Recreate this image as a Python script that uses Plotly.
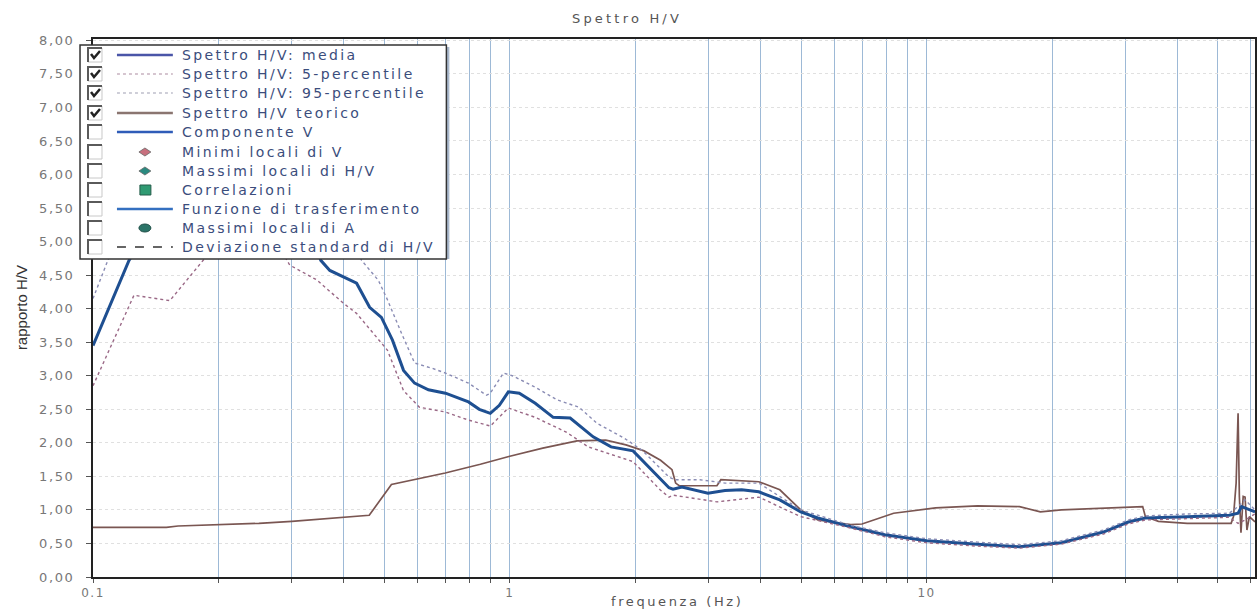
import plotly.graph_objects as go

# ---- data -------------------------------------------------------------
# Spettro H/V: media
media_f = [0.100, 0.122, 0.150, 0.180, 0.220, 0.260, 0.300, 0.330, 0.352, 0.370,
           0.429, 0.461, 0.492, 0.523, 0.556, 0.591, 0.638, 0.701, 0.796, 0.845,
           0.898, 0.944, 0.992, 1.054, 1.151, 1.271, 1.396, 1.585, 1.750, 1.976,
           2.232, 2.410, 2.464, 2.589, 2.988, 3.283, 3.600, 3.958, 4.445, 4.990,
           5.483, 6.577, 7.933, 10.00, 13.25, 16.71, 21.06, 26.55, 30.47, 33.46,
           42.19, 53.20, 55.90, 57.00, 61.40]
media_v = [3.45, 4.72, 5.60, 6.30, 6.70, 6.50, 5.90, 5.20, 4.72, 4.57,
           4.38, 4.02, 3.87, 3.53, 3.08, 2.89, 2.79, 2.74, 2.61, 2.50,
           2.44, 2.56, 2.76, 2.74, 2.59, 2.38, 2.37, 2.09, 1.94, 1.88,
           1.55, 1.33, 1.31, 1.34, 1.25, 1.29, 1.30, 1.27, 1.15, 0.97,
           0.88, 0.75, 0.63, 0.54, 0.49, 0.45, 0.51, 0.67, 0.82, 0.88,
           0.90, 0.92, 0.95, 1.05, 0.97]

# Spettro H/V: 5-percentile
p5_f = [0.100, 0.1254, 0.1529, 0.1854, 0.210, 0.240, 0.270, 0.2964, 0.344, 0.399,
        0.4289, 0.4842, 0.5088, 0.5558, 0.6072, 0.7006, 0.7955, 0.8982, 0.9917, 1.151,
        1.366, 1.542, 1.976, 2.294, 2.410, 2.464, 3.141, 3.958, 4.990, 6.577,
        7.933, 10.00, 13.25, 16.71, 21.06, 26.55, 30.47, 33.46, 42.19, 53.20,
        55.90, 58.10, 61.40]
p5_v = [2.85, 4.20, 4.12, 4.75, 5.50, 5.60, 5.10, 4.65, 4.43, 4.08,
        3.93, 3.53, 3.38, 2.78, 2.53, 2.46, 2.34, 2.25, 2.52, 2.38,
        2.16, 1.94, 1.72, 1.30, 1.19, 1.22, 1.12, 1.19, 0.90, 0.73,
        0.60, 0.51, 0.46, 0.43, 0.49, 0.64, 0.79, 0.85, 0.87, 0.89,
        0.80, 0.85, 0.94]

# Spettro H/V: 95-percentile
p95_f = [0.100, 0.109, 0.130, 0.160, 0.200, 0.250, 0.300, 0.360, 0.410, 0.441,
         0.484, 0.509, 0.550, 0.591, 0.652, 0.701, 0.796, 0.879, 0.898, 0.965,
         1.014, 1.151, 1.300, 1.467, 1.620, 1.881, 2.077, 2.410, 2.491, 2.661,
         2.860, 3.283, 3.958, 4.990, 6.577, 7.933, 10.00, 13.25, 16.71, 21.06,
         26.55, 30.47, 33.46, 42.19, 53.20, 55.90, 58.10, 61.40]
p95_v = [4.15, 4.75, 5.60, 6.50, 7.20, 7.40, 7.00, 6.00, 5.20, 4.72,
         4.42, 4.13, 3.63, 3.19, 3.11, 3.04, 2.89, 2.71, 2.74, 3.04,
         3.00, 2.83, 2.64, 2.53, 2.29, 2.07, 1.89, 1.49, 1.45, 1.45,
         1.45, 1.40, 1.40, 1.00, 0.77, 0.66, 0.57, 0.52, 0.48, 0.54,
         0.70, 0.85, 0.91, 0.94, 0.95, 1.05, 1.15, 1.00]

# Spettro H/V teorico
teo_f = [0.100, 0.150, 0.160, 0.200, 0.250, 0.300, 0.400, 0.460, 0.520, 0.600,
         0.700, 0.850, 1.000, 1.200, 1.450, 1.700, 1.900, 2.100, 2.300, 2.450,
         2.500, 2.550, 3.140, 3.210, 3.958, 4.445, 4.990, 5.483, 6.577, 7.000,
         7.933, 8.337, 10.51, 13.25, 16.71, 18.75, 21.06, 32.00, 33.00, 33.50,
         36.00, 42.20, 53.80, 54.50, 55.30, 55.90, 56.30, 56.80, 57.50, 58.10,
         58.70, 59.50, 61.40]
teo_v = [0.74, 0.74, 0.76, 0.78, 0.80, 0.83, 0.89, 0.92, 1.38, 1.46,
         1.55, 1.68, 1.80, 1.92, 2.03, 2.04, 1.97, 1.88, 1.74, 1.60,
         1.40, 1.36, 1.36, 1.45, 1.42, 1.30, 1.00, 0.85, 0.78, 0.79,
         0.90, 0.95, 1.03, 1.06, 1.05, 0.97, 1.00, 1.05, 1.05, 0.90,
         0.83, 0.80, 0.80, 0.90, 1.40, 2.44, 1.20, 0.66, 1.20, 1.19,
         0.70, 0.90, 0.82]

# axis ticks
y_ticks = [0.0, 0.5, 1.0, 1.5, 2.0, 2.5, 3.0, 3.5, 4.0, 4.5, 5.0, 5.5, 6.0, 6.5, 7.0, 7.5, 8.0]
y_labels = ["0,00", "0,50", "1,00", "1,50", "2,00", "2,50", "3,00", "3,50", "4,00",
            "4,50", "5,00", "5,50", "6,00", "6,50", "7,00", "7,50", "8,00"]
x_decades = [0.1, 1, 10]
x_decade_labels = ["0.1", "1", "10"]
x_grid = [m * d for d in (0.1, 1, 10) for m in range(1, 10) if m * d < 62]

legend_items = ["Spettro H/V: media", "Spettro H/V: 5-percentile", "Spettro H/V: 95-percentile",
                "Spettro H/V teorico", "Componente V", "Minimi locali di V",
                "Massimi locali di H/V", "Correlazioni", "Funzione di trasferimento",
                "Massimi locali di A", "Deviazione standard di H/V"]
legend_checked = [True, True, True, True, False, False, False, False, False, False, False]

# ---- figure -------------------------------------------------------------
W, H = 1260, 610
L, R, T, B = 93, 1257, 39, 577


def spaced(text, gap):
    """Wrap text in a span with extra letter spacing."""
    return f'<span style="letter-spacing:{gap}px">{text}</span>'


fig = go.Figure()
fig.add_trace(go.Scatter(x=teo_f, y=teo_v, mode="lines",
                         line=dict(color="#7a5652", width=1.7), name="teorico"))
fig.add_trace(go.Scatter(x=media_f, y=media_v, mode="lines",
                         line=dict(color="#1e4f91", width=3), name="media"))
fig.add_trace(go.Scatter(x=p5_f, y=p5_v, mode="lines",
                         line=dict(color="#9a6886", width=1.4, dash="dot"), name="p5"))
fig.add_trace(go.Scatter(x=p95_f, y=p95_v, mode="lines",
                         line=dict(color="#8a8cb4", width=1.4, dash="dot"), name="p95"))


def px(x):
    return (x - L) / (R - L)


def py(y):
    return (B - y) / (B - T)


shapes = []
annotations = []

# legend frame
shapes.append(dict(type="rect", xref="paper", yref="paper",
                   x0=px(447), x1=px(450), y0=py(259), y1=py(47),
                   fillcolor="#a9b8cc", line=dict(width=0), layer="above"))
shapes.append(dict(type="rect", xref="paper", yref="paper",
                   x0=px(80), x1=px(447), y0=py(259), y1=py(45),
                   fillcolor="white", line=dict(color="#333333", width=1.5), layer="above"))

rows = [55, 74, 93, 113, 132, 152, 171, 190, 209, 228, 247]
for i, (label, checked) in enumerate(zip(legend_items, legend_checked)):
    r = rows[i]
    # checkbox
    shapes.append(dict(type="rect", xref="paper", yref="paper",
                       x0=px(88), x1=px(102), y0=py(r + 7), y1=py(r - 7),
                       fillcolor="white", line=dict(color="#c8c8c8", width=1), layer="above"))
    shapes.append(dict(type="path", xref="paper", yref="paper",
                       path=f"M {px(88)},{py(r + 7)} L {px(88)},{py(r - 7)} L {px(102)},{py(r - 7)}",
                       line=dict(color="#5a5a5a", width=2), layer="above"))
    if checked:
        shapes.append(dict(type="path", xref="paper", yref="paper",
                           path=f"M {px(91)},{py(r - 1)} L {px(94)},{py(r + 3)} L {px(100)},{py(r - 4)}",
                           line=dict(color="#222222", width=2.5), layer="above"))
    annotations.append(dict(xref="paper", yref="paper", x=px(180), y=py(r),
                            xanchor="left", yanchor="middle", showarrow=False,
                            text=spaced(label, 2.4),
                            font=dict(family="DejaVu Sans", size=14, color="#3b4d7c")))


def sample_line(r, color, width, dash="solid"):
    shapes.append(dict(type="line", xref="paper", yref="paper",
                       x0=px(117), x1=px(173), y0=py(r), y1=py(r),
                       line=dict(color=color, width=width, dash=dash), layer="above"))


sample_line(rows[0], "#4a55a8", 2.5)
sample_line(rows[1], "#c7b2c0", 1.5, "dot")
sample_line(rows[2], "#bfbfcc", 1.5, "dot")
sample_line(rows[3], "#8a7570", 2.5)
sample_line(rows[4], "#2f5cb8", 2.5)
sample_line(rows[8], "#3470c0", 2.5)
sample_line(rows[10], "#333333", 1.3, "dash")


def diamond(r, color):
    shapes.append(dict(type="path", xref="paper", yref="paper",
                       path=(f"M {px(139)},{py(r)} L {px(145)},{py(r - 4)} "
                             f"L {px(151)},{py(r)} L {px(145)},{py(r + 4)} Z"),
                       fillcolor=color, line=dict(color="#666666", width=0.8), layer="above"))


diamond(rows[5], "#c8707e")
diamond(rows[6], "#2a8a80")
shapes.append(dict(type="rect", xref="paper", yref="paper",
                   x0=px(140), x1=px(151), y0=py(rows[7] + 5), y1=py(rows[7] - 5),
                   fillcolor="#2f9a72", line=dict(color="#255c4a", width=1), layer="above"))
shapes.append(dict(type="circle", xref="paper", yref="paper",
                   x0=px(139), x1=px(151), y0=py(rows[9] + 4), y1=py(rows[9] - 4),
                   fillcolor="#2b7468", line=dict(color="#1f4f48", width=1), layer="above"))

# axis titles
annotations.append(dict(xref="paper", yref="paper", x=px(678), y=py(601),
                        xanchor="center", yanchor="middle", showarrow=False,
                        text=spaced("frequenza (Hz)", 2.6),
                        font=dict(family="DejaVu Sans", size=13, color="#555555")))
annotations.append(dict(xref="paper", yref="paper", x=px(21), y=py(308),
                        xanchor="center", yanchor="middle", showarrow=False,
                        text="rapporto H/V", textangle=-90,
                        font=dict(family="Liberation Sans Narrow, Liberation Sans", size=15,
                                  color="#333333")))

x_ticktext = [spaced(x_decade_labels[x_decades.index(v)], 1.5) if v in x_decades else ""
              for v in x_grid]
y_ticktext = [spaced(t, 1.6) for t in y_labels]

fig.update_layout(
    width=W, height=H,
    margin=dict(l=L, r=W - R, t=T, b=H - B),
    paper_bgcolor="white", plot_bgcolor="white",
    showlegend=False,
    title=dict(text=spaced("Spettro H/V", 3.2), x=627 / W, xanchor="center",
               y=1 - 18 / H, yanchor="middle",
               font=dict(family="DejaVu Sans", size=13, color="#555555")),
    xaxis=dict(type="log", range=[-1, 1.788],
               tickvals=x_grid, ticktext=x_ticktext,
               showgrid=True, gridcolor="#9db9d6", gridwidth=1.2,
               ticks="outside", ticklen=4, tickcolor="#555555",
               tickfont=dict(family="DejaVu Sans", size=12, color="#777777"),
               showline=True, linecolor="#222222", linewidth=2, mirror=True,
               zeroline=False),
    yaxis=dict(range=[0, 8.02], tickvals=y_ticks, ticktext=y_ticktext,
               showgrid=True, gridcolor="#e0e0e0", gridwidth=1, griddash="dot",
               ticks="outside", ticklen=5, tickcolor="#555555",
               ticklabelstandoff=9,
               tickfont=dict(family="DejaVu Sans", size=13, color="#777777"),
               showline=True, linecolor="#222222", linewidth=2, mirror=True,
               zeroline=False),
    shapes=shapes,
    annotations=annotations,
)

fig.write_html("out.html")
